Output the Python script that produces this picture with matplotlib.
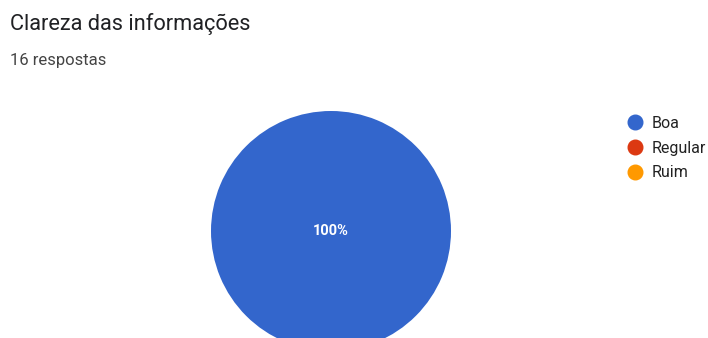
import matplotlib.pyplot as plt
from matplotlib.lines import Line2D

# dados
labels = ['Boa', 'Regular', 'Ruim']
values = [16, 0, 0]
colors = ['#3366cc', '#dc3912', '#ff9900']
title = 'Clareza das informações'
subtitle = '16 respostas'

W, H = 708, 338
fig = plt.figure(figsize=(W / 100, H / 100), dpi=100)
plt.rcParams['font.family'] = ['Roboto', 'DejaVu Sans']

# eixo que cobre a figura inteira, em pixels
ax = fig.add_axes([0, 0, 1, 1])

def pct(p):
    return f'{p:.0f}%' if p > 0 else ''

wedges, _, autotexts = ax.pie(values, colors=colors, center=(331, 231), radius=120,
                              startangle=90, counterclock=False, autopct=pct,
                              pctdistance=0, wedgeprops=dict(linewidth=0),
                              textprops=dict(color='white', fontsize=10.5, fontweight='bold'),
                              frame=True)
ax.set_xlim(0, W)
ax.set_ylim(H, 0)
ax.set_aspect('equal')
ax.axis('off')

fig.text(10 / W, 1 - 24 / H, title, fontsize=15.7, color='#202124', va='center', ha='left')
fig.text(10 / W, 1 - 60 / H, subtitle, fontsize=12, color='#444444', va='center', ha='left')

handles = [Line2D([], [], marker='o', linestyle='', markersize=10.5,
                  markerfacecolor=c, markeredgecolor=c) for c in colors]
fig.legend(handles, labels, loc='upper left', bbox_to_anchor=(615 / W, 1 - 108 / H),
           frameon=False, fontsize=11.5, labelcolor='#222222', handletextpad=0.3,
           labelspacing=0.6, borderpad=0, handlelength=1.5)

fig.savefig('out.png', dpi=100)
